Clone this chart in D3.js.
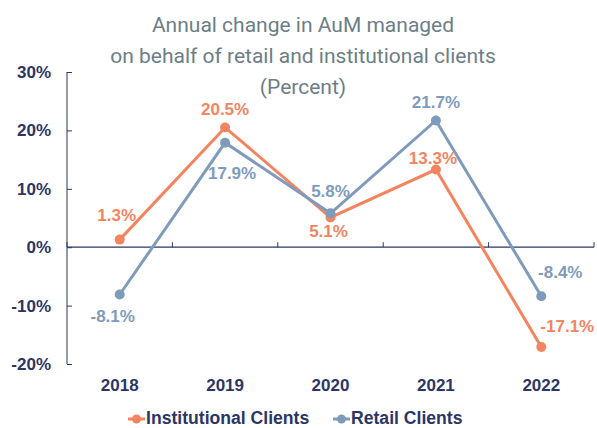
<!DOCTYPE html>
<html>
<head>
<meta charset="utf-8">
<script src="https://cdn.jsdelivr.net/npm/d3@7"></script>
<style>
  body { margin: 0; background: #fff; }
  svg { display: block; }
</style>
</head>
<body>
<script>
var years = ["2018", "2019", "2020", "2021", "2022"];
var institutional = [1.3, 20.5, 5.1, 13.3, -17.1];
var retail = [-8.1, 17.9, 5.8, 21.7, -8.4];
var yTicks = [-20, -10, 0, 10, 20, 30];

var W = 597, H = 428;
var navy = "#2b3566", orange = "#f4845f", blue = "#7f9bbb", grey = "#6c7e87";
var font = "Liberation Sans, Arial, sans-serif";

var svg = d3.select("body").append("svg").attr("width", W).attr("height", H);

// titel
var title = ["Annual change in AuM managed", "on behalf of retail and institutional clients", "(Percent)"];
svg.selectAll("text.title").data(title).enter().append("text")
   .attr("class", "title")
   .attr("x", 303)
   .attr("y", function (d, i) { return 32 + i * 31; })
   .attr("text-anchor", "middle")
   .attr("font-family", "Roboto, sans-serif")
   .attr("font-size", 21)
   .attr("fill", grey)
   .text(function (d) { return d; });

var x = d3.scaleBand().domain(years).range([67, 594]);
var y = d3.scaleLinear().domain([-20, 30]).range([364, 72]);

// y as
svg.append("g")
   .attr("transform", "translate(67,0)")
   .call(d3.axisLeft(y).tickValues(yTicks).tickSize(-5).tickPadding(16).tickFormat(function (d) { return d + "%"; }))
   .call(function (g) {
       g.select(".domain").attr("stroke", navy).attr("d", "M0," + y(30) + "V" + y(-20));
       g.selectAll(".tick line").attr("stroke", navy);
       g.selectAll(".tick text").attr("fill", navy).attr("font-family", font)
        .attr("font-weight", "bold").attr("font-size", 17);
   });

// x as op nul
svg.append("line").attr("x1", 67).attr("x2", 594).attr("y1", y(0)).attr("y2", y(0))
   .attr("stroke", navy).attr("stroke-width", 1.2);
var bounds = years.map(function (d) { return x(d); }).concat([x.range()[1]]);
svg.selectAll("line.xt").data(bounds).enter().append("line")
   .attr("class", "xt")
   .attr("x1", function (d) { return d; }).attr("x2", function (d) { return d; })
   .attr("y1", y(0)).attr("y2", y(0) - 5)
   .attr("stroke", navy);
svg.selectAll("text.xl").data(years).enter().append("text")
   .attr("class", "xl")
   .attr("x", function (d) { return x(d) + x.bandwidth() / 2; })
   .attr("y", 391)
   .attr("text-anchor", "middle")
   .attr("font-family", font)
   .attr("font-weight", "bold").attr("font-size", 17)
   .attr("fill", navy)
   .text(function (d) { return d; });

var cx = function (d, i) { return x(years[i]) + x.bandwidth() / 2; };
var line = d3.line().x(cx).y(function (d) { return y(d); });

function drawSeries(data, color) {
    svg.append("path").datum(data).attr("d", line)
       .attr("fill", "none").attr("stroke", color).attr("stroke-width", 3);
    svg.selectAll(null).data(data).enter().append("circle")
       .attr("cx", cx).attr("cy", function (d) { return y(d); })
       .attr("r", 5).attr("fill", color);
}
drawSeries(institutional, orange);
drawSeries(retail, blue);

// labels: offset dx, dy t.o.v. het punt
var instOff = [[-3, -23], [0, -17], [-2, 15], [-3, -10], [26, -20]];
var retOff = [[-7, 23], [7, 32], [0, -21], [0, -17], [19, -23]];
function drawLabels(data, off, color) {
    svg.selectAll(null).data(data).enter().append("text")
       .attr("x", function (d, i) { return cx(d, i) + off[i][0]; })
       .attr("y", function (d, i) { return y(d) + off[i][1]; })
       .attr("text-anchor", "middle")
       .attr("dominant-baseline", "middle")
       .attr("font-family", font)
       .attr("font-weight", "bold").attr("font-size", 17)
       .attr("fill", color)
       .text(function (d) { return d.toFixed(1) + "%"; });
}
drawLabels(institutional, instOff, orange);
drawLabels(retail, retOff, blue);

// legenda
var legend = [{name: "Institutional Clients", color: orange, x: 128}, {name: "Retail Clients", color: blue, x: 333}];
var lg = svg.selectAll("g.lg").data(legend).enter().append("g").attr("class", "lg")
            .attr("transform", function (d) { return "translate(" + d.x + ",419)"; });
lg.append("line").attr("x1", 0).attr("x2", 17).attr("stroke", function (d) { return d.color; }).attr("stroke-width", 3);
lg.append("circle").attr("cx", 8.5).attr("r", 4.5).attr("fill", function (d) { return d.color; });
lg.append("text").attr("x", 18).attr("dominant-baseline", "middle")
  .attr("font-family", font)
  .attr("font-weight", "bold").attr("font-size", 17.6)
  .attr("fill", navy)
  .text(function (d) { return d.name; });
</script>
</body>
</html>
